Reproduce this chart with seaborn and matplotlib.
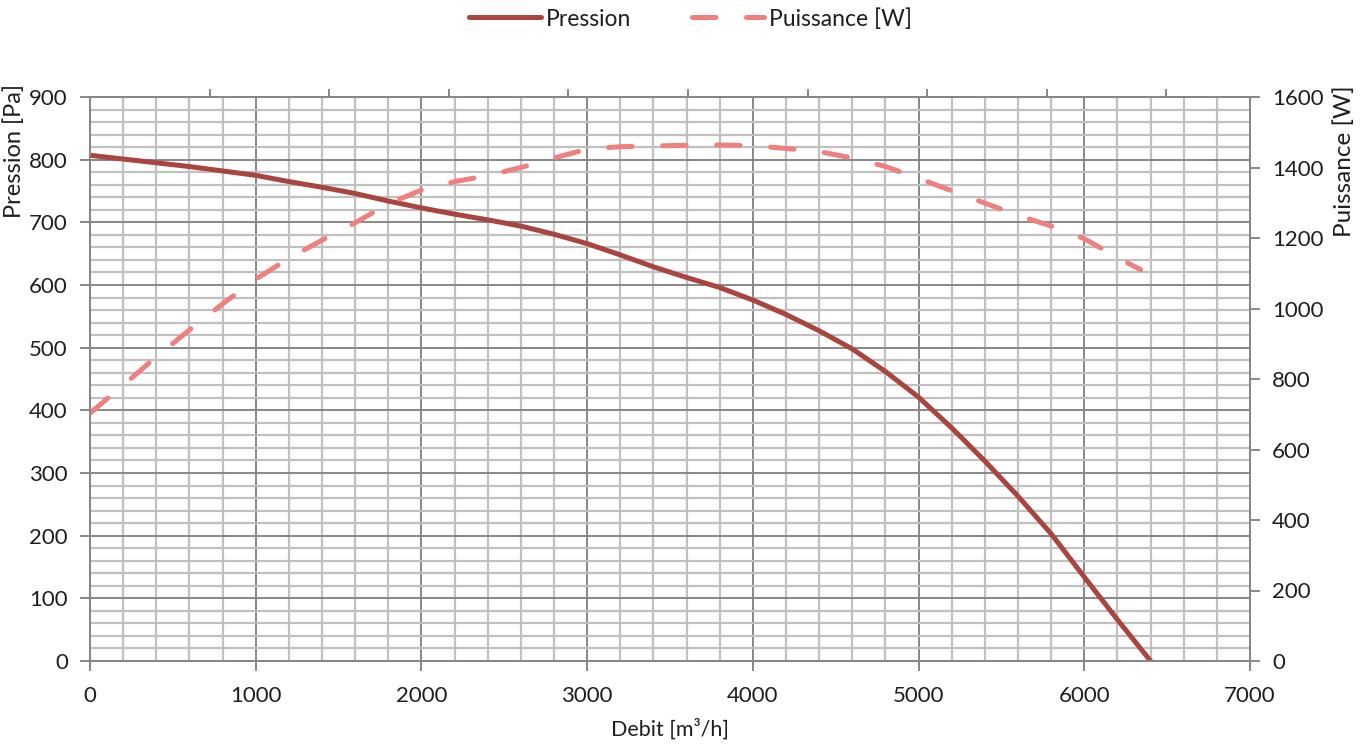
import numpy as np
import pandas as pd
import matplotlib
matplotlib.use("Agg")
import matplotlib.pyplot as plt
from matplotlib.ticker import MultipleLocator, NullFormatter
import seaborn as sns

# ---- data ----
debit_p = [0, 200, 400, 600, 800, 1000, 1200, 1400, 1600, 1800, 2000, 2200, 2400,
           2600, 2800, 3000, 3200, 3400, 3600, 3800, 4000, 4200, 4400, 4600, 4800,
           5000, 5200, 5400, 5600, 5800, 6000, 6200, 6400]
pression = [807, 801, 795, 789, 782, 775, 765, 756, 746, 734, 723, 713, 704,
            694, 681, 666, 648, 629, 612, 596, 576, 553, 527, 498, 462,
            421, 372, 319, 263, 203, 134, 66, 0]

debit_w = [0, 200, 400, 600, 800, 1000, 1200, 1400, 1600, 1800, 2000, 2200, 2400,
           2600, 2800, 3000, 3200, 3400, 3600, 3800, 4000, 4200, 4400, 4600, 4800,
           5000, 5200, 5400, 5600, 5800, 6000, 6200, 6340]
puissance = [703, 782, 863, 939, 1013, 1083, 1142, 1194, 1243, 1297, 1336, 1360, 1377,
             1400, 1427, 1452, 1459, 1461, 1463, 1464, 1462, 1454, 1445, 1427, 1403,
             1369, 1334, 1299, 1264, 1234, 1198, 1145, 1110]

label_p = "Pression"
label_w = "Puissance [W]"
xlabel = "Debit [m³/h]"
ylabel_l = "Pression [Pa]"
ylabel_r = "Puissance [W]"

c_p = "#A9443F"
c_w = "#F08080"
grid_major = "#878787"
grid_minor = "#C0C0C0"
txt = "#1E1E1E"

sns.set_theme(style="white")
plt.rcParams["font.family"] = ["Lato", "DejaVu Sans"]

fig = plt.figure(figsize=(13.67, 7.49), dpi=100)
ax = fig.add_axes([90 / 1367, 1 - 661 / 749, 1160 / 1367, 564 / 749])

df_p = pd.DataFrame({"x": debit_p, "y": pression})
df_w = pd.DataFrame({"x": debit_w, "y": puissance})

# grid
ax.set_xlim(0, 7000)
ax.set_ylim(0, 900)
ax.xaxis.set_major_locator(MultipleLocator(1000))
ax.xaxis.set_minor_locator(MultipleLocator(200))
ax.yaxis.set_major_locator(MultipleLocator(100))
ax.yaxis.set_minor_locator(MultipleLocator(20))
ax.grid(which="minor", color=grid_minor, lw=1.6, zorder=0)
ax.grid(which="major", color=grid_major, lw=1.4, zorder=0)
ax.set_axisbelow(True)

lw = 3.6
sns.lineplot(data=df_p, x="x", y="y", ax=ax, color=c_p, lw=lw, label=label_p,
             legend=False, solid_capstyle="round", solid_joinstyle="round")

ax2 = ax.twinx()
sns.lineplot(data=df_w, x="x", y="y", ax=ax2, color=c_w, lw=lw, label=label_w,
             legend=False, dash_capstyle="round")
ax2.lines[0].set_dashes((4.7, 6.1))
ax2.set_ylim(0, 1600)
ax2.yaxis.set_major_locator(MultipleLocator(200))
ax2.set_xlim(0, 7000)

for a in (ax, ax2):
    for s in a.spines.values():
        s.set_color(grid_major)
        s.set_linewidth(1.4)

tick_fs = 16
ax.tick_params(axis="both", which="major", direction="out", length=7, width=1.4,
               color=grid_major, labelsize=tick_fs, labelcolor=txt, left=True, bottom=True)
ax.tick_params(axis="x", pad=11)
ax.tick_params(axis="y", pad=9)
ax.tick_params(which="minor", length=0)
ax2.tick_params(axis="y", direction="out", length=7, width=1.4, color=grid_major,
                labelsize=tick_fs, labelcolor=txt, right=True, pad=9)

# top ticks (secondary horizontal axis)
sec = ax.secondary_xaxis("top")
step = 7000 / 9.7
sec.set_xticks([step * k for k in range(1, 10)])
sec.xaxis.set_major_formatter(NullFormatter())
sec.tick_params(direction="out", length=6, width=1.4, color=grid_major)
sec.spines["top"].set_color(grid_major)
sec.spines["top"].set_linewidth(1.4)

ax.set_xlabel(xlabel, fontsize=15.5, color=txt, labelpad=9)
ax.set_ylabel(ylabel_l, fontsize=17, color=txt)
ax.yaxis.set_label_coords(-0.056, 0.904)
ax2.set_ylabel(ylabel_r, fontsize=17.5, color=txt)
ax2.yaxis.set_label_coords(1.0716, 0.887)

fs_leg = 16.5
handles = ax.get_lines()[:1] + ax2.get_lines()[:1]
fig.legend(handles, [label_p, label_w], loc="upper center", bbox_to_anchor=(0.505, 1.017),
           ncol=2, frameon=False, fontsize=fs_leg, handlelength=3.14, handletextpad=0.22,
           columnspacing=2.66, labelcolor=txt)

fig.savefig("out.png", dpi=100, facecolor="white")
